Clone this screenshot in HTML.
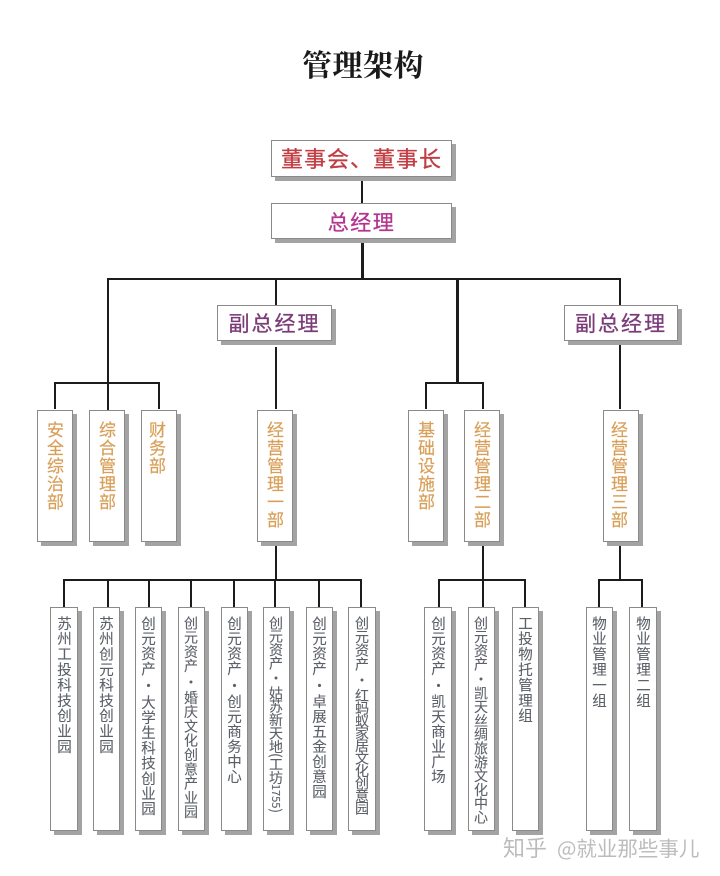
<!DOCTYPE html>
<html lang="zh">
<head>
<meta charset="utf-8">
<style>
html,body{margin:0;padding:0;background:#fff}
#p{position:relative;width:720px;height:876px;overflow:hidden;background:#fff;font-family:"Noto Sans CJK SC","Liberation Sans",sans-serif;filter:blur(.35px)}
.l{position:absolute;background:#1c1c1c}
.b{position:absolute;box-sizing:border-box;background:#fff;border:1px solid #8a8a8a;box-shadow:4px 4px 0 #a3a3a3}
.h{text-align:center;white-space:nowrap;-webkit-text-stroke:.3px currentColor}
.v{writing-mode:vertical-rl;text-orientation:mixed;white-space:nowrap;text-align:left}
.d{color:#d89f58;font-size:17px;letter-spacing:1px;line-height:34px;padding-top:10px;-webkit-text-stroke:.2px currentColor}
.s{color:#5c6068;font-size:14.5px;line-height:26px;padding-top:8px;letter-spacing:.9px;-webkit-text-stroke:.1px currentColor}
.n{font-size:14px}
.t{position:absolute;white-space:nowrap}
</style>
</head>
<body>
<div id="p">
<div class="t" style="left:302px;top:41px;font:700 30px/44px 'Noto Serif CJK SC','Liberation Serif',serif;color:#1a1a1a;letter-spacing:.5px">管理架构</div>

<!-- connectors -->
<div class="l" style="left:361px;top:176px;width:2px;height:28px"></div>
<div class="l" style="left:361px;top:238px;width:3px;height:41px"></div>
<div class="l" style="left:107px;top:278px;width:514px;height:2px"></div>
<div class="l" style="left:107px;top:278px;width:2px;height:133px"></div>
<div class="l" style="left:275px;top:278px;width:2px;height:28px"></div>
<div class="l" style="left:456px;top:278px;width:3px;height:106px"></div>
<div class="l" style="left:619px;top:278px;width:2px;height:28px"></div>
<div class="l" style="left:275px;top:347px;width:2px;height:62px"></div>
<div class="l" style="left:619px;top:345px;width:2px;height:64px"></div>
<div class="l" style="left:54px;top:382px;width:106px;height:2px"></div>
<div class="l" style="left:54px;top:382px;width:2px;height:27px"></div>
<div class="l" style="left:158px;top:382px;width:2px;height:27px"></div>
<div class="l" style="left:425px;top:382px;width:59px;height:2px"></div>
<div class="l" style="left:425px;top:382px;width:2px;height:27px"></div>
<div class="l" style="left:482px;top:382px;width:2px;height:27px"></div>
<div class="l" style="left:275px;top:543px;width:2px;height:38px"></div>
<div class="l" style="left:482px;top:543px;width:2px;height:38px"></div>
<div class="l" style="left:619px;top:543px;width:2px;height:38px"></div>
<div class="l" style="left:63px;top:579px;width:299px;height:2px"></div>
<div class="l" style="left:438px;top:579px;width:88px;height:2px"></div>
<div class="l" style="left:598px;top:579px;width:45px;height:2px"></div>
<div class="l" style="left:63px;top:579px;width:2px;height:28px"></div>
<div class="l" style="left:107px;top:579px;width:2px;height:28px"></div>
<div class="l" style="left:148px;top:579px;width:2px;height:28px"></div>
<div class="l" style="left:190px;top:579px;width:2px;height:28px"></div>
<div class="l" style="left:233px;top:579px;width:2px;height:28px"></div>
<div class="l" style="left:274px;top:579px;width:2px;height:28px"></div>
<div class="l" style="left:318px;top:579px;width:2px;height:28px"></div>
<div class="l" style="left:360px;top:579px;width:2px;height:28px"></div>
<div class="l" style="left:438px;top:579px;width:2px;height:28px"></div>
<div class="l" style="left:482px;top:579px;width:2px;height:28px"></div>
<div class="l" style="left:524px;top:579px;width:2px;height:28px"></div>
<div class="l" style="left:598px;top:579px;width:2px;height:28px"></div>
<div class="l" style="left:641px;top:579px;width:2px;height:28px"></div>

<!-- top boxes -->
<div class="b h" style="left:271px;top:140px;width:181px;height:37px;color:#c23d42;font-size:22px;line-height:35px;letter-spacing:1px">董事会、董事长</div>
<div class="b h" style="left:271px;top:203px;width:181px;height:36px;color:#b2358f;font-size:21px;line-height:36px;letter-spacing:1.5px">总经理</div>
<div class="b h" style="left:217px;top:305px;width:115px;height:36px;color:#7b3d78;font-size:21px;line-height:35px;letter-spacing:2px">副总经理</div>
<div class="b h" style="left:564px;top:305px;width:114px;height:36px;color:#7b3d78;font-size:21px;line-height:35px;letter-spacing:2px">副总经理</div>

<!-- departments -->
<div class="b v d" style="left:37px;top:410px;width:36px;height:132px">安全综治部</div>
<div class="b v d" style="left:89px;top:410px;width:36px;height:132px">综合管理部</div>
<div class="b v d" style="left:141px;top:410px;width:36px;height:132px;padding-right:2px">财务部</div>
<div class="b v d" style="left:257px;top:410px;width:36px;height:132px">经营管理一部</div>
<div class="b v d" style="left:408px;top:410px;width:36px;height:132px">基础设施部</div>
<div class="b v d" style="left:464px;top:410px;width:36px;height:132px">经营管理二部</div>
<div class="b v d" style="left:603px;top:410px;width:36px;height:132px;padding-right:2px">经营管理三部</div>

<!-- sub units -->
<div class="b v s" style="left:50px;top:607px;width:28px;height:224px">苏州工投科技创业园</div>
<div class="b v s" style="left:93px;top:607px;width:27px;height:224px">苏州创元科技创业园</div>
<div class="b v s" style="left:135px;top:607px;width:27px;height:224px;letter-spacing:.7px">创元资产<span style="margin:1.5px 0">・</span>大学生科技创业园</div>
<div class="b v s n" style="left:178px;top:607px;width:27px;height:224px;letter-spacing:.3px">创元资产<span style="margin:1.5px 0">・</span>婚庆文化创意产业园</div>
<div class="b v s" style="left:221px;top:607px;width:27px;height:224px;letter-spacing:.5px">创元资产<span style="margin:1.5px 0">・</span>创元商务中心</div>
<div class="b v s n" style="left:263px;top:607px;width:27px;height:224px;letter-spacing:-.6px">创元资产<span style="margin:1.5px 0">・</span>姑苏新天地(工坊<span style="font-size:11px;letter-spacing:0">1755</span>)</div>
<div class="b v s" style="left:306px;top:607px;width:27px;height:224px;letter-spacing:.5px">创元资产<span style="margin:1.5px 0">・</span>卓展五金创意园</div>
<div class="b v s n" style="left:348px;top:607px;width:28px;height:224px;letter-spacing:-1.5px"><span style="letter-spacing:-.3px">创元资产</span><span style="margin:2px 0;letter-spacing:0">・</span>红蚂蚁家居文化创意园</div>
<div class="b v s" style="left:424px;top:607px;width:28px;height:224px;letter-spacing:.5px">创元资产<span style="margin:1.5px 0">・</span>凯天商业广场</div>
<div class="b v s n" style="left:468px;top:607px;width:27px;height:224px;letter-spacing:-.2px">创元资产<span style="margin:.5px 0">・</span>凯天丝绸旅游文化中心</div>
<div class="b v s" style="left:512px;top:607px;width:27px;height:224px">工投物托管理组</div>
<div class="b v s" style="left:586px;top:607px;width:27px;height:224px">物业管理一组</div>
<div class="b v s" style="left:629px;top:607px;width:28px;height:224px">物业管理二组</div>

<!-- watermark -->
<div class="t" style="left:503px;top:830px;font-size:22px;line-height:34px;color:#bcbcbc">知乎</div>
<div class="t" style="left:557px;top:830px;font-size:20.5px;line-height:34px;color:#bcbcbc">@就业那些事儿</div>
</div>
</body>
</html>
